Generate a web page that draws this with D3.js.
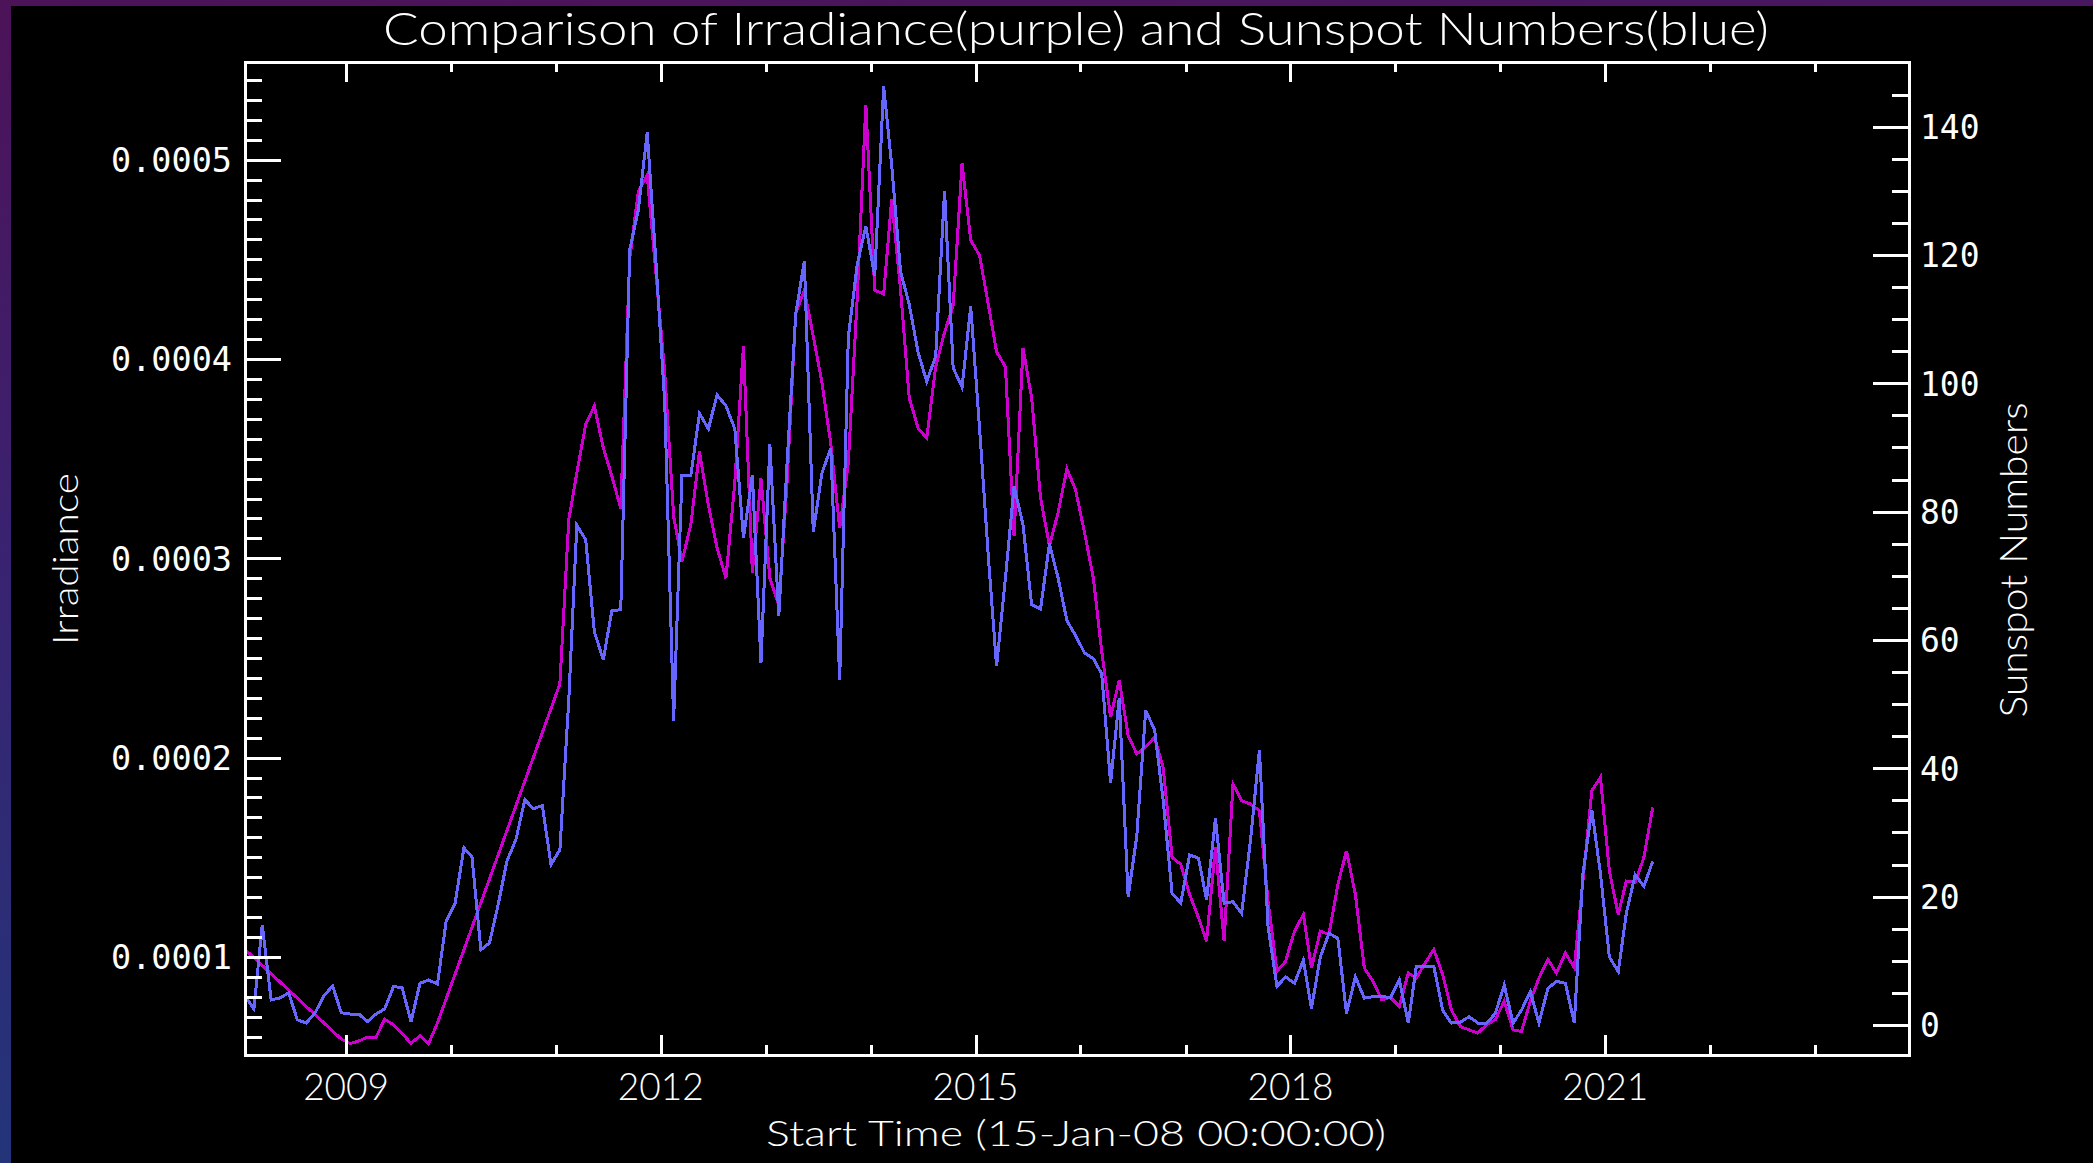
<!DOCTYPE html>
<html><head><meta charset="utf-8">
<script src="https://cdn.jsdelivr.net/npm/d3@7/dist/d3.min.js"></script>
<style>html,body{margin:0;padding:0;background:#000;overflow:hidden}</style>
</head><body>
<svg id="c" width="2093" height="1163"></svg>
<script>
// ---- data (monthly, first month Jan 2008) ----
const firstMonth = "2008-01-15";
const sunspots = [
  4.5, 2.5, 15.6, 3.9, 4.2, 5.0, 0.8, 0.3, 1.9, 4.5, 6.1, 1.9,          // 2008
  1.7, 1.7, 0.5, 1.7, 2.5, 6.0, 5.8, 0.5, 6.5, 7.0, 6.4, 16.1,          // 2009
  18.9, 27.6, 26.2, 11.7, 12.8, 18.9, 25.6, 28.9, 35.1, 33.7, 34.2, 25.0, // 2010
  27.3, 50.7, 77.9, 75.6, 61.3, 56.9, 64.6, 64.7, 120.8, 127, 139.1, 119.2, // 2011
  97, 47.4, 85.7, 85.7, 95.3, 92.9, 98.2, 96.5, 92.9, 75.9, 85.7, 56.5,  // 2012
  90.5, 63.7, 86.9, 110.8, 119.1, 76.8, 86, 89.9, 53.8, 107.2, 118.5, 124.5, // 2013
  116.7, 146.3, 134, 117.4, 112.3, 104.8, 100.3, 104.2, 130, 102.4, 99.4, 112, // 2014
  92.9, 72.6, 55.9, 69.7, 83.9, 78, 65.5, 64.8, 75, 69.7, 63, 60.7,     // 2015
  58, 57.1, 54.7, 37.7, 51, 20, 29.4, 49, 46, 35, 20.5, 19.0,           // 2016
  26.5, 26.0, 19.5, 32.2, 19, 19.2, 17.4, 28.8, 42.9, 15.3, 6.0, 7.5,   // 2017
  6.5, 10.1, 2.6, 10.6, 14.3, 13.5, 1.8, 7.5, 4.2, 4.4, 4.5, 4.2,       // 2018
  7.0, 0.3, 9.1, 9.1, 9.1, 2.3, 0.3, 0.4, 1.3, 0.3, 0.3, 1.8,           // 2019
  6.2, 0.3, 2.3, 5.2, 0.3, 5.7, 6.8, 6.5, 0.3, 23.6, 33.5, 23.6,        // 2020
  10.6, 8.3, 17.4, 23.4, 21.6, 25.5                                      // 2021
];
// irradiance in units of 1e-4 (null = no data that month)
const irradianceE4 = [
  1.038, null, null, null, null, null, null, null, null, null, null, 0.588,
  0.565, 0.579, 0.597, 0.597, 0.687, 0.660, 0.616, 0.565, 0.606, 0.565, 0.669, null,
  null, null, null, null, null, null, null, null, null, null, null, null,
  2.369, 3.194, 3.429, 3.672, 3.764, 3.555, 3.412, 3.25, 4.503, 4.839, 4.922, 4.437,
  3.932, 3.210, 2.984, 3.17, 3.536, 3.266, 3.054, 2.900, 3.382, 4.066, 2.929, 3.401,
  2.900, 2.765, 3.363, 4.230, 4.345, 4.114, 3.883, 3.575, 3.151, 3.478, 4.307, 5.275,
  4.345, 4.326, 4.8, 4.345, 3.806, 3.652, 3.603, 3.960, 4.134, 4.268, 4.981, 4.596,
  4.519, 4.268, 4.037, 3.960, 3.112, 4.056, 3.806, 3.305, 3.064, 3.227, 3.449, 3.343,
  3.131, 2.900, 2.534, 2.203, 2.388, 2.111, 2.019, 2.052, 2.102, 1.95, 1.50, 1.465,
  1.314, 1.197, 1.079, 1.551, 1.079, 1.868, 1.784, 1.767, 1.734, 1.280, 0.928, 0.978,
  1.129, 1.213, 0.945, 1.129, 1.113, 1.364, 1.532, 1.314, 0.945, 0.878, 0.785, 0.797,
  0.752, 0.919, 0.894, 0.970, 1.037, 0.911, 0.735, 0.651, 0.634, 0.618, 0.660, 0.685,
  0.777, 0.634, 0.626, 0.777, 0.894, 0.987, 0.919, 1.020, 0.945, 1.381, 1.834, 1.901,
  1.432, 1.213, 1.381, 1.373, 1.499, 1.750
];
const irrUnit = 1e-4;
const leftTickValues = [1, 2, 3, 4, 5];
const leftTickLabels = ["0.0001", "0.0002", "0.0003", "0.0004", "0.0005"];
const rightTickValues = [0, 20, 40, 60, 80, 100, 120, 140];
const xMajorYears = [2009, 2012, 2015, 2018, 2021];
const xMinorYears = [2009, 2010, 2011, 2012, 2013, 2014, 2015, 2016, 2017, 2018, 2019, 2020, 2021, 2022, 2023];
const titleText = "Comparison of Irradiance(purple) and Sunspot Numbers(blue)";
const xTitle = "Start Time (15-Jan-08 00:00:00)";
const yLeftTitle = "Irradiance";
const yRightTitle = "Sunspot Numbers";

// ---- layout ----
const L = 245, R = 1909, T = 62, B = 1055;
const W = 2093, H = 1163;
const svg = d3.select("#c");

const defs = svg.append("defs");
const g = defs.append("linearGradient").attr("id", "bg").attr("x1", 0).attr("y1", 0).attr("x2", 0.15).attr("y2", 1);
g.append("stop").attr("offset", "0%").attr("stop-color", "#4d1258");
g.append("stop").attr("offset", "45%").attr("stop-color", "#3a2270");
g.append("stop").attr("offset", "100%").attr("stop-color", "#22357a");
svg.append("rect").attr("width", W).attr("height", H).attr("fill", "url(#bg)");
svg.append("rect").attr("x", 11).attr("y", 6).attr("width", W - 11).attr("height", H - 6).attr("fill", "#000");

const parse = d3.utcParse("%Y-%m-%d");
const t0 = parse(firstMonth);
const months = sunspots.map((_, i) => d3.utcMonth.offset(t0, i));

const x = d3.scaleUtc()
  .domain([parse("2008-01-15"), parse("2023-11-24")])
  .range([L, R]);
const yI = d3.scaleLinear().domain([0.508, 5.49]).range([B, T]);
const yS = d3.scaleLinear().domain([-4.68, 150.08]).range([B, T]);

const plot = svg.append("g");
// purple irradiance (gaps bridged by straight segments)
const irrPts = months.map((d, i) => [d, irradianceE4[i]]).filter(p => p[1] != null);
plot.append("path")
  .attr("d", d3.line().x(p => x(p[0])).y(p => yI(p[1]))(irrPts))
  .attr("fill", "none").attr("stroke", "#cc00cc").attr("stroke-width", 3)
  .attr("stroke-linejoin", "miter").attr("shape-rendering", "crispEdges");
plot.append("path")
  .attr("d", d3.line().x((d, i) => x(months[i])).y(d => yS(d))(sunspots))
  .attr("fill", "none").attr("stroke", "#6666ff").attr("stroke-width", 3)
  .attr("stroke-linejoin", "miter").attr("shape-rendering", "crispEdges");

// ---- axes ----
function styleAxis(sel) {
  sel.select(".domain").remove();
  sel.selectAll("line").attr("stroke", "#fff").attr("stroke-width", 3).attr("shape-rendering", "crispEdges");
  sel.selectAll("text").attr("fill", "#fff");
}
const monoFont = "'DejaVu Sans Mono', 'Liberation Mono', monospace";
const lineFont = "Lato, 'DejaVu Sans', sans-serif";
const lineWeight = 300;

// left
const minorI = d3.range(6, 55).filter(v => v % 10 !== 0).map(v => v / 10);
svg.append("g").attr("transform", `translate(${L},0)`)
  .call(d3.axisLeft(yI).tickValues(minorI).tickSizeInner(-17).tickSizeOuter(0).tickFormat(""))
  .call(styleAxis);
const la = svg.append("g").attr("transform", `translate(${L},0)`)
  .call(d3.axisLeft(yI).tickValues(leftTickValues).tickSizeInner(-36).tickSizeOuter(0).tickPadding(13)
    .tickFormat((d, i) => leftTickLabels[i]))
  .call(styleAxis);
la.selectAll("text").attr("font-family", monoFont).attr("font-size", 33).attr("dy", "0.36em")
  .attr("textLength", 121).attr("lengthAdjust", "spacingAndGlyphs");

// right
const minorS = d3.range(5, 150, 5).filter(v => v % 20 !== 0);
svg.append("g").attr("transform", `translate(${R},0)`)
  .call(d3.axisRight(yS).tickValues(minorS).tickSizeInner(-17).tickSizeOuter(0).tickFormat(""))
  .call(styleAxis);
const ra = svg.append("g").attr("transform", `translate(${R},0)`)
  .call(d3.axisRight(yS).tickValues(rightTickValues).tickSizeInner(-36).tickSizeOuter(0).tickPadding(11))
  .call(styleAxis);
ra.selectAll("text").attr("font-family", monoFont).attr("font-size", 33).attr("dy", "0.36em");

// bottom & top
const yr = y => parse(y + "-01-01");
[[B, d3.axisBottom], [T, d3.axisTop]].forEach(([yy, ax]) => {
  svg.append("g").attr("transform", `translate(0,${yy})`)
    .call(ax(x).tickValues(xMinorYears.filter(v => !xMajorYears.includes(v)).map(yr)).tickSizeInner(-10).tickSizeOuter(0).tickFormat(""))
    .call(styleAxis);
  svg.append("g").attr("transform", `translate(0,${yy})`)
    .call(ax(x).tickValues(xMajorYears.map(yr)).tickSizeInner(-20).tickSizeOuter(0).tickFormat(""))
    .call(styleAxis);
});
// x tick labels
svg.append("g").selectAll("text").data(xMajorYears).join("text")
  .attr("x", d => x(yr(d))).attr("y", 1100)
  .attr("text-anchor", "middle").attr("fill", "#fff")
  .attr("font-family", lineFont).attr("font-weight", lineWeight).attr("font-size", 37)
  .attr("textLength", 86).attr("lengthAdjust", "spacingAndGlyphs")
  .text(d => d);

// frame
svg.append("rect").attr("x", L).attr("y", T).attr("width", R - L).attr("height", B - T)
  .attr("fill", "none").attr("stroke", "#fff").attr("stroke-width", 3).attr("shape-rendering", "crispEdges");

// titles
svg.append("text").attr("x", (383 + 1769) / 2).attr("y", 45).attr("text-anchor", "middle")
  .attr("fill", "#fff").attr("font-family", lineFont).attr("font-weight", lineWeight).attr("font-size", 45)
  .attr("textLength", 1386).attr("lengthAdjust", "spacingAndGlyphs").text(titleText);
svg.append("text").attr("x", 1076).attr("y", 1146).attr("text-anchor", "middle")
  .attr("fill", "#fff").attr("font-family", lineFont).attr("font-weight", lineWeight).attr("font-size", 36)
  .attr("textLength", 620).attr("lengthAdjust", "spacingAndGlyphs").text(xTitle);
svg.append("text").attr("transform", "translate(78,559) rotate(-90)").attr("text-anchor", "middle")
  .attr("fill", "#fff").attr("font-family", lineFont).attr("font-weight", lineWeight).attr("font-size", 35)
  .attr("textLength", 172).attr("lengthAdjust", "spacingAndGlyphs").text(yLeftTitle);
svg.append("text").attr("transform", "translate(2027,560) rotate(-90)").attr("text-anchor", "middle")
  .attr("fill", "#fff").attr("font-family", lineFont).attr("font-weight", lineWeight).attr("font-size", 38)
  .attr("textLength", 315).attr("lengthAdjust", "spacingAndGlyphs").text(yRightTitle);
</script>
</body></html>
